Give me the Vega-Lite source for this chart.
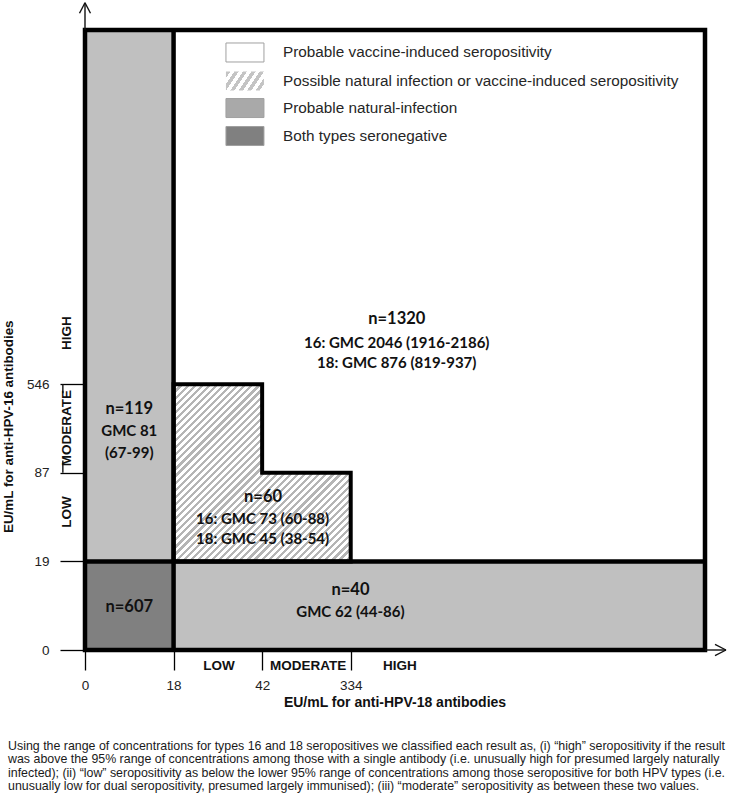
{
"$schema": "https://vega.github.io/schema/vega-lite/v6.json",
"width": 620, "height": 620,
"autosize": {"type": "none"},
"padding": {"left": 85, "top": 30, "right": 31, "bottom": 151},
"config": {"view": {"stroke": null}, "font": "Liberation Sans"},
"datasets": {
"regions": [
{"cat": "natural", "x": 0, "x2": 1, "y": 1, "y2": 7},
{"cat": "natural", "x": 1, "x2": 7, "y": 0, "y2": 1},
{"cat": "seroneg", "x": 0, "x2": 1, "y": 0, "y2": 1}
],
"hatch": [{"x": 1, "y": 3}, {"x": 2, "y": 2}, {"x": 3, "y": 2}],
"frame": [{"x": 0, "x2": 7, "y": 0, "y2": 7}],
"thick": [{"x": 1, "x2": 1, "y": 0, "y2": 7}, {"x": 0, "x2": 7, "y": 1, "y2": 1}],
"thin": [
{"x": 0, "y": 7, "x2": 0, "y2": 7.308},
{"x": -0.062, "y": 7.189, "x2": 0, "y2": 7.308},
{"x": 0.062, "y": 7.189, "x2": 0, "y2": 7.308},
{"x": 7, "y": 0, "x2": 7.237, "y2": 0},
{"x": 7.113, "y": 0.064, "x2": 7.237, "y2": 0},
{"x": 7.113, "y": -0.064, "x2": 7.237, "y2": 0},
{"x": -0.25, "y": 3, "x2": -0.25, "y2": 2.9},
{"x": -0.25, "y": 2, "x2": -0.25, "y2": 2.14}
],
"counts": [
{"text": "n=119", "x": 0.5, "y": 2.721},
{"text": "n=607", "x": 0.5, "y": 0.49},
{"text": "n=40", "x": 2.997, "y": 0.677},
{"text": "n=60", "x": 2.01, "y": 1.727},
{"text": "n=1320", "x": 3.52, "y": 3.735}
],
"gmc": [
{"text": "GMC 81", "x": 0.5, "y": 2.472},
{"text": "(67-99)", "x": 0.5, "y": 2.224},
{"text": "GMC 62 (44-86)", "x": 2.997, "y": 0.429},
{"text": "16: GMC 73 (60-88)", "x": 2.005, "y": 1.479},
{"text": "18: GMC 45 (38-54)", "x": 2.005, "y": 1.253},
{"text": "16: GMC 2046 (1916-2186)", "x": 3.52, "y": 3.47},
{"text": "18: GMC 876 (819-937)", "x": 3.52, "y": 3.24}
],
"legend": [
{"cat": "vaccine", "label": "Probable vaccine-induced seropositivity", "y": 6.746},
{"cat": "mixed", "label": "Possible natural infection or vaccine-induced seropositivity", "y": 6.424},
{"cat": "natural", "label": "Probable natural-infection", "y": 6.119},
{"cat": "seroneg", "label": "Both types seronegative", "y": 5.803}
],
"xcats": [{"label": "LOW", "x": 1.513}, {"label": "MODERATE", "x": 2.518}, {"label": "HIGH", "x": 3.556}],
"ycats": [{"label": "HIGH", "y": 3.579}, {"label": "MODERATE", "y": 2.506}, {"label": "LOW", "y": 1.558}],
"titles": [{"xt": "EU/mL for anti-HPV-18 antibodies", "yt": "EU/mL for anti-HPV-16 antibodies"}],
"note": [{"text": "Using the range of concentrations for types 16 and 18 seropositives we classified each result as, (i) “high” seropositivity if the result\nwas above the 95% range of concentrations among those with a single antibody (i.e. unusually high for presumed largely naturally\ninfected); (ii) “low” seropositivity as below the lower 95% range of concentrations among those seropositive for both HPV types (i.e.\nunusually low for dual seropositivity, presumed largely immunised); (iii) “moderate” seropositivity as between these two values."}]
},
"layer": [
{"data": {"name": "regions"}, "mark": {"type": "rect"},
 "encoding": {
  "x": {"field": "x", "type": "quantitative", "scale": {"domain": [0, 7], "nice": false, "zero": false},
   "axis": {"values": [0, 1, 2, 3], "labelExpr": "['0','18','42','334'][datum.value]", "title": null, "domain": false, "grid": false, "tickSize": 20, "tickWidth": 1.3, "tickColor": "#000", "labelFontSize": 13.5, "labelColor": "#222", "labelPadding": 8, "labelFlush": false, "labelOverlap": false}},
  "x2": {"field": "x2"},
  "y": {"field": "y", "type": "quantitative", "scale": {"domain": [0, 7], "nice": false, "zero": false},
   "axis": {"values": [0, 1, 2, 3], "labelExpr": "['0','19','87','546'][datum.value]", "title": null, "domain": false, "grid": false, "tickSize": 25, "tickWidth": 1.3, "tickColor": "#000", "labelFontSize": 13.5, "labelColor": "#222", "labelPadding": 11, "labelFlush": false, "labelOverlap": false}},
  "y2": {"field": "y2"},
  "color": {"field": "cat", "type": "nominal", "scale": {"domain": ["natural", "seroneg"], "range": ["#c0c0c0", "#808080"]}, "legend": null}
 }},
{"data": {"name": "hatch"},
 "mark": {"type": "area", "interpolate": "step-after", "stroke": "#000", "strokeWidth": 4, "strokeJoin": "miter",
  "fill": {"gradient": "linear", "x1": 0, "y1": 0, "x2": 1, "y2": 1, "stops": [
{"offset":0,"color":"#b5b5b5"},{"offset":0.009,"color":"#b5b5b5"},{"offset":0.009,"color":"#fff"},{"offset":0.02,"color":"#fff"},
{"offset":0.02,"color":"#b5b5b5"},{"offset":0.029,"color":"#b5b5b5"},{"offset":0.029,"color":"#fff"},{"offset":0.04,"color":"#fff"},
{"offset":0.04,"color":"#b5b5b5"},{"offset":0.049,"color":"#b5b5b5"},{"offset":0.049,"color":"#fff"},{"offset":0.06,"color":"#fff"},
{"offset":0.06,"color":"#b5b5b5"},{"offset":0.069,"color":"#b5b5b5"},{"offset":0.069,"color":"#fff"},{"offset":0.08,"color":"#fff"},
{"offset":0.08,"color":"#b5b5b5"},{"offset":0.089,"color":"#b5b5b5"},{"offset":0.089,"color":"#fff"},{"offset":0.1,"color":"#fff"},
{"offset":0.1,"color":"#b5b5b5"},{"offset":0.109,"color":"#b5b5b5"},{"offset":0.109,"color":"#fff"},{"offset":0.12,"color":"#fff"},
{"offset":0.12,"color":"#b5b5b5"},{"offset":0.129,"color":"#b5b5b5"},{"offset":0.129,"color":"#fff"},{"offset":0.14,"color":"#fff"},
{"offset":0.14,"color":"#b5b5b5"},{"offset":0.149,"color":"#b5b5b5"},{"offset":0.149,"color":"#fff"},{"offset":0.16,"color":"#fff"},
{"offset":0.16,"color":"#b5b5b5"},{"offset":0.169,"color":"#b5b5b5"},{"offset":0.169,"color":"#fff"},{"offset":0.18,"color":"#fff"},
{"offset":0.18,"color":"#b5b5b5"},{"offset":0.189,"color":"#b5b5b5"},{"offset":0.189,"color":"#fff"},{"offset":0.2,"color":"#fff"},
{"offset":0.2,"color":"#b5b5b5"},{"offset":0.209,"color":"#b5b5b5"},{"offset":0.209,"color":"#fff"},{"offset":0.22,"color":"#fff"},
{"offset":0.22,"color":"#b5b5b5"},{"offset":0.229,"color":"#b5b5b5"},{"offset":0.229,"color":"#fff"},{"offset":0.24,"color":"#fff"},
{"offset":0.24,"color":"#b5b5b5"},{"offset":0.249,"color":"#b5b5b5"},{"offset":0.249,"color":"#fff"},{"offset":0.26,"color":"#fff"},
{"offset":0.26,"color":"#b5b5b5"},{"offset":0.269,"color":"#b5b5b5"},{"offset":0.269,"color":"#fff"},{"offset":0.28,"color":"#fff"},
{"offset":0.28,"color":"#b5b5b5"},{"offset":0.289,"color":"#b5b5b5"},{"offset":0.289,"color":"#fff"},{"offset":0.3,"color":"#fff"},
{"offset":0.3,"color":"#b5b5b5"},{"offset":0.309,"color":"#b5b5b5"},{"offset":0.309,"color":"#fff"},{"offset":0.32,"color":"#fff"},
{"offset":0.32,"color":"#b5b5b5"},{"offset":0.329,"color":"#b5b5b5"},{"offset":0.329,"color":"#fff"},{"offset":0.34,"color":"#fff"},
{"offset":0.34,"color":"#b5b5b5"},{"offset":0.349,"color":"#b5b5b5"},{"offset":0.349,"color":"#fff"},{"offset":0.36,"color":"#fff"},
{"offset":0.36,"color":"#b5b5b5"},{"offset":0.369,"color":"#b5b5b5"},{"offset":0.369,"color":"#fff"},{"offset":0.38,"color":"#fff"},
{"offset":0.38,"color":"#b5b5b5"},{"offset":0.389,"color":"#b5b5b5"},{"offset":0.389,"color":"#fff"},{"offset":0.4,"color":"#fff"},
{"offset":0.4,"color":"#b5b5b5"},{"offset":0.409,"color":"#b5b5b5"},{"offset":0.409,"color":"#fff"},{"offset":0.42,"color":"#fff"},
{"offset":0.42,"color":"#b5b5b5"},{"offset":0.429,"color":"#b5b5b5"},{"offset":0.429,"color":"#fff"},{"offset":0.44,"color":"#fff"},
{"offset":0.44,"color":"#b5b5b5"},{"offset":0.449,"color":"#b5b5b5"},{"offset":0.449,"color":"#fff"},{"offset":0.46,"color":"#fff"},
{"offset":0.46,"color":"#b5b5b5"},{"offset":0.469,"color":"#b5b5b5"},{"offset":0.469,"color":"#fff"},{"offset":0.48,"color":"#fff"},
{"offset":0.48,"color":"#b5b5b5"},{"offset":0.489,"color":"#b5b5b5"},{"offset":0.489,"color":"#fff"},{"offset":0.5,"color":"#fff"},
{"offset":0.5,"color":"#b5b5b5"},{"offset":0.509,"color":"#b5b5b5"},{"offset":0.509,"color":"#fff"},{"offset":0.52,"color":"#fff"},
{"offset":0.52,"color":"#b5b5b5"},{"offset":0.529,"color":"#b5b5b5"},{"offset":0.529,"color":"#fff"},{"offset":0.54,"color":"#fff"},
{"offset":0.54,"color":"#b5b5b5"},{"offset":0.549,"color":"#b5b5b5"},{"offset":0.549,"color":"#fff"},{"offset":0.56,"color":"#fff"},
{"offset":0.56,"color":"#b5b5b5"},{"offset":0.569,"color":"#b5b5b5"},{"offset":0.569,"color":"#fff"},{"offset":0.58,"color":"#fff"},
{"offset":0.58,"color":"#b5b5b5"},{"offset":0.589,"color":"#b5b5b5"},{"offset":0.589,"color":"#fff"},{"offset":0.6,"color":"#fff"},
{"offset":0.6,"color":"#b5b5b5"},{"offset":0.609,"color":"#b5b5b5"},{"offset":0.609,"color":"#fff"},{"offset":0.62,"color":"#fff"},
{"offset":0.62,"color":"#b5b5b5"},{"offset":0.629,"color":"#b5b5b5"},{"offset":0.629,"color":"#fff"},{"offset":0.64,"color":"#fff"},
{"offset":0.64,"color":"#b5b5b5"},{"offset":0.649,"color":"#b5b5b5"},{"offset":0.649,"color":"#fff"},{"offset":0.66,"color":"#fff"},
{"offset":0.66,"color":"#b5b5b5"},{"offset":0.669,"color":"#b5b5b5"},{"offset":0.669,"color":"#fff"},{"offset":0.68,"color":"#fff"},
{"offset":0.68,"color":"#b5b5b5"},{"offset":0.689,"color":"#b5b5b5"},{"offset":0.689,"color":"#fff"},{"offset":0.7,"color":"#fff"},
{"offset":0.7,"color":"#b5b5b5"},{"offset":0.709,"color":"#b5b5b5"},{"offset":0.709,"color":"#fff"},{"offset":0.72,"color":"#fff"},
{"offset":0.72,"color":"#b5b5b5"},{"offset":0.729,"color":"#b5b5b5"},{"offset":0.729,"color":"#fff"},{"offset":0.74,"color":"#fff"},
{"offset":0.74,"color":"#b5b5b5"},{"offset":0.749,"color":"#b5b5b5"},{"offset":0.749,"color":"#fff"},{"offset":0.76,"color":"#fff"},
{"offset":0.76,"color":"#b5b5b5"},{"offset":0.769,"color":"#b5b5b5"},{"offset":0.769,"color":"#fff"},{"offset":0.78,"color":"#fff"},
{"offset":0.78,"color":"#b5b5b5"},{"offset":0.789,"color":"#b5b5b5"},{"offset":0.789,"color":"#fff"},{"offset":0.8,"color":"#fff"},
{"offset":0.8,"color":"#b5b5b5"},{"offset":0.809,"color":"#b5b5b5"},{"offset":0.809,"color":"#fff"},{"offset":0.82,"color":"#fff"},
{"offset":0.82,"color":"#b5b5b5"},{"offset":0.829,"color":"#b5b5b5"},{"offset":0.829,"color":"#fff"},{"offset":0.84,"color":"#fff"},
{"offset":0.84,"color":"#b5b5b5"},{"offset":0.849,"color":"#b5b5b5"},{"offset":0.849,"color":"#fff"},{"offset":0.86,"color":"#fff"},
{"offset":0.86,"color":"#b5b5b5"},{"offset":0.869,"color":"#b5b5b5"},{"offset":0.869,"color":"#fff"},{"offset":0.88,"color":"#fff"},
{"offset":0.88,"color":"#b5b5b5"},{"offset":0.889,"color":"#b5b5b5"},{"offset":0.889,"color":"#fff"},{"offset":0.9,"color":"#fff"},
{"offset":0.9,"color":"#b5b5b5"},{"offset":0.909,"color":"#b5b5b5"},{"offset":0.909,"color":"#fff"},{"offset":0.92,"color":"#fff"},
{"offset":0.92,"color":"#b5b5b5"},{"offset":0.929,"color":"#b5b5b5"},{"offset":0.929,"color":"#fff"},{"offset":0.94,"color":"#fff"},
{"offset":0.94,"color":"#b5b5b5"},{"offset":0.949,"color":"#b5b5b5"},{"offset":0.949,"color":"#fff"},{"offset":0.96,"color":"#fff"},
{"offset":0.96,"color":"#b5b5b5"},{"offset":0.969,"color":"#b5b5b5"},{"offset":0.969,"color":"#fff"},{"offset":0.98,"color":"#fff"},
{"offset":0.98,"color":"#b5b5b5"},{"offset":0.989,"color":"#b5b5b5"},{"offset":0.989,"color":"#fff"},{"offset":1,"color":"#fff"}
  ]}},
 "encoding": {
  "x": {"field": "x", "type": "quantitative"},
  "y": {"field": "y", "type": "quantitative"},
  "y2": {"datum": 1}
 }},
{"data": {"name": "thick"}, "mark": {"type": "rule", "color": "#000", "strokeWidth": 4.5},
 "encoding": {"x": {"field": "x", "type": "quantitative"}, "x2": {"field": "x2"}, "y": {"field": "y", "type": "quantitative"}, "y2": {"field": "y2"}}},
{"data": {"name": "frame"}, "mark": {"type": "rect", "filled": false, "color": "#000", "strokeWidth": 4.5, "strokeJoin": "miter"},
 "encoding": {"x": {"field": "x", "type": "quantitative"}, "x2": {"field": "x2"}, "y": {"field": "y", "type": "quantitative"}, "y2": {"field": "y2"}}},
{"data": {"name": "thin"}, "mark": {"type": "rule", "color": "#111", "strokeWidth": 1.4},
 "encoding": {"x": {"field": "x", "type": "quantitative"}, "x2": {"field": "x2"}, "y": {"field": "y", "type": "quantitative"}, "y2": {"field": "y2"}}},
{"data": {"name": "counts"}, "mark": {"type": "text", "font": "Lato", "fontWeight": "bold", "fontSize": 16.5, "color": "#111", "align": "center", "baseline": "middle"},
 "encoding": {"x": {"field": "x", "type": "quantitative"}, "y": {"field": "y", "type": "quantitative"}, "text": {"field": "text"}}},
{"data": {"name": "gmc"}, "mark": {"type": "text", "font": "Lato", "fontWeight": "bold", "fontSize": 15, "color": "#111", "align": "center", "baseline": "middle"},
 "encoding": {"x": {"field": "x", "type": "quantitative"}, "y": {"field": "y", "type": "quantitative"}, "text": {"field": "text"}}},
{"data": {"name": "legend"}, "transform": [{"filter": "datum.cat != 'mixed'"}],
 "mark": {"type": "point", "shape": "M-1,-0.5H1V0.5H-1Z", "size": 1444, "filled": true, "opacity": 1, "stroke": "#a0a0a0", "strokeWidth": 1},
 "encoding": {"x": {"datum": 1.806}, "y": {"field": "y", "type": "quantitative"},
  "fill": {"field": "cat", "type": "nominal", "scale": {"domain": ["vaccine", "natural", "seroneg"], "range": ["#ffffff", "#a9a9a9", "#808080"]}, "legend": null}}},
{"data": {"name": "legend"}, "transform": [{"filter": "datum.cat == 'mixed'"}],
 "mark": {"type": "point", "shape": "M-1,-0.5H1V0.5H-1Z", "size": 1444, "filled": true, "opacity": 1, "strokeWidth": 0,
  "fill": {"gradient": "linear", "x1": 0, "y1": 0, "x2": 1.2, "y2": 0.4, "stops": [
{"offset":0,"color":"#c4c4c4"},{"offset":0.0833,"color":"#c4c4c4"},{"offset":0.0833,"color":"#fff"},{"offset":0.1667,"color":"#fff"},
{"offset":0.1667,"color":"#c4c4c4"},{"offset":0.25,"color":"#c4c4c4"},{"offset":0.25,"color":"#fff"},{"offset":0.3333,"color":"#fff"},
{"offset":0.3333,"color":"#c4c4c4"},{"offset":0.4167,"color":"#c4c4c4"},{"offset":0.4167,"color":"#fff"},{"offset":0.5,"color":"#fff"},
{"offset":0.5,"color":"#c4c4c4"},{"offset":0.5833,"color":"#c4c4c4"},{"offset":0.5833,"color":"#fff"},{"offset":0.6667,"color":"#fff"},
{"offset":0.6667,"color":"#c4c4c4"},{"offset":0.75,"color":"#c4c4c4"},{"offset":0.75,"color":"#fff"},{"offset":0.8333,"color":"#fff"},
{"offset":0.8333,"color":"#c4c4c4"},{"offset":0.9167,"color":"#c4c4c4"},{"offset":0.9167,"color":"#fff"},{"offset":1,"color":"#fff"}
  ]}},
 "encoding": {"x": {"datum": 1.806}, "y": {"field": "y", "type": "quantitative"}}},
{"data": {"name": "legend"}, "mark": {"type": "text", "font": "Liberation Sans", "fontSize": 15.3, "color": "#262626", "align": "left", "baseline": "middle"},
 "encoding": {"x": {"datum": 2.236}, "y": {"field": "y", "type": "quantitative"}, "text": {"field": "label"}}},
{"data": {"name": "xcats"}, "mark": {"type": "text", "font": "Liberation Sans", "fontWeight": "bold", "fontSize": 13.5, "color": "#111", "align": "center", "baseline": "middle"},
 "encoding": {"x": {"field": "x", "type": "quantitative"}, "y": {"datum": -0.181}, "text": {"field": "label"}}},
{"data": {"name": "ycats"}, "mark": {"type": "text", "font": "Liberation Sans", "fontWeight": "bold", "fontSize": 13.5, "color": "#111", "align": "center", "baseline": "middle", "angle": 270},
 "encoding": {"x": {"datum": -0.203}, "y": {"field": "y", "type": "quantitative"}, "text": {"field": "label"}}},
{"data": {"name": "titles"}, "mark": {"type": "text", "font": "Liberation Sans", "fontWeight": "bold", "fontSize": 14, "color": "#111", "align": "center", "baseline": "middle"},
 "encoding": {"x": {"datum": 3.5}, "y": {"datum": -0.599}, "text": {"field": "xt"}}},
{"data": {"name": "titles"}, "mark": {"type": "text", "font": "Liberation Sans", "fontWeight": "bold", "fontSize": 13.4, "color": "#111", "align": "center", "baseline": "middle", "angle": 270},
 "encoding": {"x": {"datum": -0.86}, "y": {"datum": 2.521}, "text": {"field": "yt"}}},
{"data": {"name": "note"}, "mark": {"type": "text", "font": "Liberation Sans", "fontSize": 12.4, "lineHeight": 13.3, "lineBreak": "\n", "color": "#1a1a1a", "align": "left", "baseline": "alphabetic"},
 "encoding": {"x": {"datum": -0.869}, "y": {"datum": -1.129}, "text": {"field": "text"}}}
]
}
